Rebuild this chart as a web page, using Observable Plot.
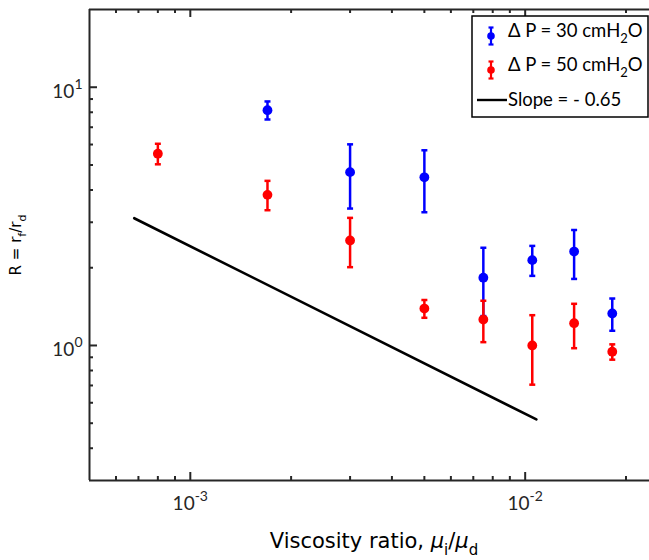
<!DOCTYPE html>
<html><head><meta charset="utf-8">
<script src="https://cdn.jsdelivr.net/npm/d3@7"></script>
<script src="https://cdn.jsdelivr.net/npm/@observablehq/plot@0.6"></script>
<style>body{margin:0;background:#fff} svg{display:block}</style>
</head><body><div id="chart"></div>
<script>
// ---- data ----
const blueX  = [1.7e-3, 3.0e-3, 5.0e-3, 7.5e-3, 1.05e-2, 1.4e-2, 1.82e-2];
const blueR  = [8.15, 4.69, 4.48, 1.83, 2.14, 2.31, 1.33];
const blueHi = [8.81, 6.01, 5.70, 2.39, 2.43, 2.80, 1.52];
const blueLo = [7.50, 3.39, 3.28, 1.30, 1.86, 1.81, 1.14];

const redX  = [8.0e-4, 1.7e-3, 3.0e-3, 5.0e-3, 7.5e-3, 1.05e-2, 1.4e-2, 1.82e-2];
const redR  = [5.53, 3.83, 2.55, 1.39, 1.26, 1.00, 1.22, 0.946];
const redHi = [6.04, 4.34, 3.12, 1.50, 1.49, 1.31, 1.45, 1.01];
const redLo = [5.03, 3.34, 2.01, 1.28, 1.03, 0.705, 0.976, 0.881];

const slopeX = [6.8e-4, 1.08e-2];
const slopeY = [3.11, 0.517];

const xMajor = [1e-3, 1e-2];
const xMinor = [6e-4, 7e-4, 8e-4, 9e-4, 2e-3, 3e-3, 4e-3, 5e-3, 6e-3, 7e-3, 8e-3, 9e-3, 2e-2];
const yMajor = [1, 10];
const yMinor = [0.4, 0.5, 0.6, 0.7, 0.8, 0.9, 2, 3, 4, 5, 6, 7, 8, 9];

const legendLabels = ["30", "50"];
const slopeLabel = "Slope = - 0.65";

const xDomain = [5e-4, 0.02351];
const yDomain = [0.3, 20];

// ---- build ----
const W = 649, H = 560, mL = 89, mT = 9, mB = 80, mR = 0;
const plotH = H - mT - mB, plotW = W - mL - mR;
const BLUE = "#0000ff", RED = "#ff0000", AX = "#262626";

const toRows = (xs, ys, hi, lo) => xs.map((x, i) => ({x, y: ys[i], hi: hi[i], lo: lo[i]}));
const blue = toRows(blueX, blueR, blueHi, blueLo);
const red = toRows(redX, redR, redHi, redLo);
const caps = rows => rows.flatMap(d => [{x: d.x, y: d.hi}, {x: d.x, y: d.lo}]);
const slope = slopeX.map((x, i) => ({x, y: slopeY[i]}));

const capSymbol = {draw(ctx, size) { const r = Math.sqrt(size / Math.PI); ctx.moveTo(-r, 0); ctx.lineTo(r, 0); }};

const series = (rows, color) => [
  Plot.ruleX(rows, {x: "x", y1: "lo", y2: "hi", stroke: color, strokeWidth: 2.5}),
  Plot.dot(caps(rows), {x: "x", y: "y", symbol: capSymbol, r: 3, stroke: color, strokeWidth: 2.5}),
  Plot.dot(rows, {x: "x", y: "y", r: 4.9, fill: color, stroke: "none"})
];

const pow = d => "10^" + Math.round(Math.log10(d));

const plot = Plot.plot({
  width: W, height: H,
  marginLeft: mL, marginTop: mT, marginBottom: mB, marginRight: mR,
  style: {background: "#fff", overflow: "visible"},
  x: {type: "log", domain: xDomain, axis: null},
  y: {type: "log", domain: yDomain, axis: null},
  marks: [
    Plot.line(slope, {x: "x", y: "y", stroke: "#000", strokeWidth: 2.6}),
    ...series(blue, BLUE),
    ...series(red, RED),
    // frame
    Plot.ruleX([xDomain[0]], {x: d => d, stroke: AX, strokeWidth: 2}),
    Plot.ruleY(yDomain, {y: d => d, stroke: AX, strokeWidth: 2}),
    // ticks (inward)
    Plot.tickX(xMajor, {x: d => d, insetTop: plotH - 8, stroke: AX, strokeWidth: 2}),
    Plot.tickX(xMinor, {x: d => d, insetTop: plotH - 4, stroke: AX, strokeWidth: 2}),
    Plot.tickX(xMajor, {x: d => d, insetBottom: plotH - 8, stroke: AX, strokeWidth: 2}),
    Plot.tickX(xMinor, {x: d => d, insetBottom: plotH - 4, stroke: AX, strokeWidth: 2}),
    Plot.tickY(yMajor, {y: d => d, insetRight: plotW - 8, stroke: AX, strokeWidth: 2}),
    Plot.tickY(yMinor, {y: d => d, insetRight: plotW - 4, stroke: AX, strokeWidth: 2}),
    // tick labels
    Plot.text(xMajor, {x: d => d, frameAnchor: "bottom", dy: 29, text: pow, fontSize: 19, fill: AX, fontFamily: "Lato"}),
    Plot.text(yMajor, {y: d => d, frameAnchor: "left", dx: -7, dy: 4.5, textAnchor: "end", text: pow, fontSize: 19, fill: AX, fontFamily: "Lato"})
  ]
});

document.getElementById("chart").append(plot);
const svg = d3.select(plot);

// superscripts for tick labels
svg.selectAll("text").each(function() {
  const t = this.textContent;
  if (!t.includes("^")) return;
  const [base, exp] = t.split("^");
  const sel = d3.select(this);
  sel.text(null);
  sel.append("tspan").text(base);
  sel.append("tspan").attr("dy", -9).attr("font-size", 14).text(exp);
});

// axis labels
const xl = svg.append("text").attr("x", 374).attr("y", 548).attr("text-anchor", "middle")
  .attr("font-family", "DejaVu Sans").attr("font-size", 21).attr("fill", "#000");
xl.append("tspan").text("Viscosity ratio, ");
xl.append("tspan").attr("font-style", "italic").text("μ");
xl.append("tspan").attr("dy", 7).attr("font-size", 15).text("i");
xl.append("tspan").attr("dy", -7).text("/");
xl.append("tspan").attr("font-style", "italic").text("μ");
xl.append("tspan").attr("dy", 7).attr("font-size", 15).text("d");

const yl = svg.append("text").attr("transform", "translate(21,245) rotate(-90)").attr("text-anchor", "middle")
  .attr("font-family", "DejaVu Sans").attr("font-size", 15).attr("fill", "#000");
yl.append("tspan").text("R = r");
yl.append("tspan").attr("dy", 5).attr("font-size", 11).text("f");
yl.append("tspan").attr("dy", -5).text("/r");
yl.append("tspan").attr("dy", 5).attr("font-size", 11).text("d");

// legend
const lg = svg.append("g").attr("text-anchor", "start");
lg.append("rect").attr("x", 472).attr("y", 16).attr("width", 176).attr("height", 101)
  .attr("fill", "#fff").attr("stroke", "#000").attr("stroke-width", 1.5);
const rows = [{c: BLUE, cy: 36, lab: legendLabels[0]}, {c: RED, cy: 70, lab: legendLabels[1]}];
rows.forEach(r => {
  lg.append("line").attr("x1", 491).attr("x2", 491).attr("y1", r.cy - 8.5).attr("y2", r.cy + 8.5).attr("stroke", r.c).attr("stroke-width", 2.2);
  lg.append("line").attr("x1", 488.5).attr("x2", 493.5).attr("y1", r.cy - 8.5).attr("y2", r.cy - 8.5).attr("stroke", r.c).attr("stroke-width", 2.2);
  lg.append("line").attr("x1", 488.5).attr("x2", 493.5).attr("y1", r.cy + 8.5).attr("y2", r.cy + 8.5).attr("stroke", r.c).attr("stroke-width", 2.2);
  lg.append("circle").attr("cx", 491).attr("cy", r.cy).attr("r", 3.8).attr("fill", r.c);
  const t = lg.append("text").attr("x", 508).attr("y", r.cy + 1).attr("text-anchor", "start").attr("font-family", "Lato").attr("font-size", 18.5).attr("fill", "#000");
  t.append("tspan").text("Δ P = " + r.lab + " cmH");
  t.append("tspan").attr("dy", 6).attr("font-size", 13).text("2");
  t.append("tspan").attr("dy", -6).text("O");
});
lg.append("line").attr("x1", 477).attr("x2", 507).attr("y1", 100).attr("y2", 100).attr("stroke", "#000").attr("stroke-width", 2.4);
lg.append("text").attr("x", 508).attr("y", 106).attr("text-anchor", "start").attr("font-family", "Lato").attr("font-size", 18.5).attr("fill", "#000").text(slopeLabel);
</script>
</body></html>
